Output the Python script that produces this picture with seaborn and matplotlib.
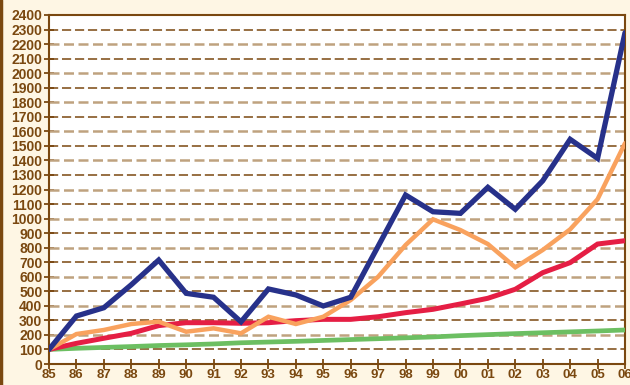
import matplotlib
matplotlib.use("Agg")
import matplotlib.pyplot as plt
import seaborn as sns
import pandas as pd
from matplotlib.lines import Line2D

years = ["85", "86", "87", "88", "89", "90", "91", "92", "93", "94", "95",
         "96", "97", "98", "99", "00", "01", "02", "03", "04", "05", "06"]
blue = [100, 330, 387, 545, 715, 486, 459, 290, 516, 475, 399,
        459, 810, 1162, 1047, 1036, 1215, 1064, 1260, 1545, 1414, 2278]
orange = [100, 206, 234, 275, 291, 222, 245, 211, 325, 275, 325,
          440, 600, 818, 995, 921, 825, 665, 784, 926, 1133, 1518]
red = [100, 142, 177, 211, 264, 284, 284, 280, 284, 298, 307,
       307, 325, 353, 376, 413, 452, 514, 628, 697, 825, 848]
green = [100, 108, 114, 120, 127, 132, 138, 146, 151, 156, 162,
         168, 174, 180, 186, 195, 202, 209, 215, 221, 227, 234]
yticks = list(range(0, 2500, 100))

series = {"Green": green, "Red": red, "Orange": orange, "Blue": blue}
colors = {"Green": "#6CBF62", "Red": "#E51E44", "Orange": "#F9A25E", "Blue": "#27318A"}
widths = {"Green": 3.4, "Red": 3.6, "Orange": 3.2, "Blue": 3.8}

rows = []
for name, vals in series.items():
    for i, v in enumerate(vals):
        rows.append({"x": i, "value": v, "series": name})
df = pd.DataFrame(rows)

sns.set_theme(style="white")
brown = "#7A4810"
bg = "#FEF6E4"

fig = plt.figure(figsize=(6.3, 3.85), dpi=100, facecolor=bg)
ax = fig.add_axes([49 / 630, 1 - 364 / 385, (625 - 49) / 630, (364 - 15) / 385])
ax.set_facecolor("white")

# grid
for v in yticks[1:-1]:
    if (v // 100) % 2 == 1:
        ax.axhline(v, color=brown, lw=1.1, ls=(0, (6, 2.5)), zorder=1)
    else:
        ax.axhline(v, color="#BFA27F", lw=1.8, ls=(0, (4, 1.8)), zorder=1)

for name in series:
    sub = df[df["series"] == name]
    sns.lineplot(data=sub, x="x", y="value", ax=ax, color=colors[name],
                 lw=widths[name], legend=False, zorder=3,
                 solid_joinstyle="miter")

ax.set_xlim(0, len(years) - 1)
ax.set_ylim(0, 2400)
ax.set_xticks(range(len(years)))
ax.set_xticklabels(years)
ax.set_yticks(yticks)
ax.set_yticklabels([str(v) for v in yticks])
ax.set_xlabel("")
ax.set_ylabel("")

for s in ax.spines.values():
    s.set_color(brown)
    s.set_linewidth(1.5)

ax.tick_params(axis="both", direction="inout", length=6.5, width=1.3, color=brown,
               labelcolor=brown, left=True, bottom=True)
ax.tick_params(axis="y", pad=1.5)
ax.tick_params(axis="x", pad=0.5)
for lab in ax.get_yticklabels():
    lab.set_fontfamily(["Liberation Sans", "DejaVu Sans"])
    lab.set_fontweight("bold")
    lab.set_fontsize(10)
for lab in ax.get_xticklabels():
    lab.set_fontfamily(["Liberation Sans Narrow", "Liberation Sans", "DejaVu Sans"])
    lab.set_fontweight("bold")
    lab.set_fontsize(9.5)

fig.add_artist(Line2D([0.002, 0.002], [0, 1], transform=fig.transFigure,
                      color=brown, lw=2.5))

fig.savefig("out.png", dpi=100, facecolor=bg)
